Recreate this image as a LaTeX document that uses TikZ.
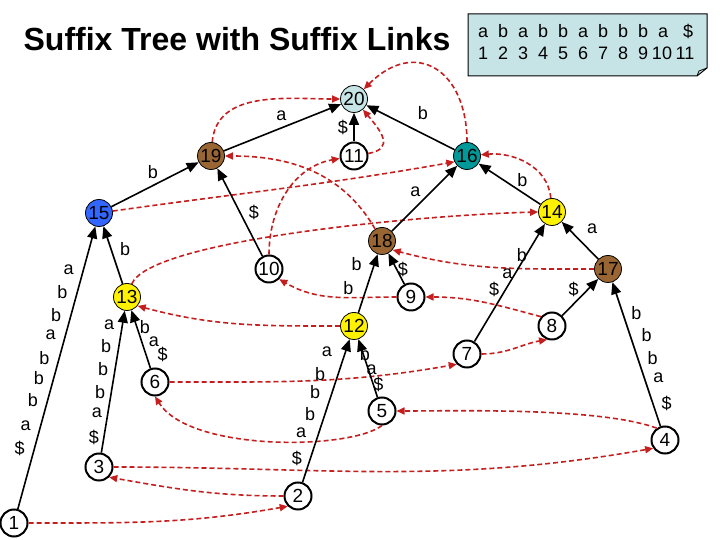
\documentclass[tikz,border=0pt]{standalone}
\usepackage{fontspec}
\setmainfont{Liberation Sans}
\usepackage{tikz}
\usetikzlibrary{arrows.meta}
\definecolor{rootblue}{HTML}{C6E3E6}
\definecolor{nodebrown}{HTML}{996633}
\definecolor{nodeteal}{HTML}{009999}
\definecolor{nodeblue}{HTML}{3366FF}
\definecolor{linkred}{HTML}{C41E1E}

\begin{document}
\begin{tikzpicture}[x=1pt, y=1pt,
  leaf/.style={circle, draw, line width=2pt, fill=white, minimum size=27pt,
    inner sep=0pt, font=\fontsize{19}{19}\selectfont},
  inner/.style={leaf, line width=0.8pt, fill=#1},
  tedge/.style={line width=1.6pt, -{Triangle[length=12pt,width=10pt]}},
  slink/.style={linkred, dash pattern=on 5pt off 3pt, line width=1.6pt,
    -{Triangle[length=8pt,width=7pt]}},
  lbl/.style={inner sep=0pt, font=\fontsize{18}{18}\selectfont}]
  \useasboundingbox (0,0) rectangle (720,540);

  % Title and the string
  \node[font=\bfseries\fontsize{32}{36}\selectfont] (title) at (237,501) {Suffix Tree with Suffix Links};
  \draw[fill=rootblue, line width=1pt] (468,464) -- (697,464) -- (707,472) -- (707,526) -- (468,526) -- cycle;
  \draw[line width=0.8pt] (697,464) -- (699,469) -- (707,472);
  \foreach \ch [count=\i] in {a,b,a,b,b,a,b,b,b,a}
    \node[lbl, anchor=base] (s\i) at ({483+20*(\i-1)},502) {\ch};
  \node[lbl, anchor=base] (s11) at (688,502) {\$};
  \foreach \i in {1,...,9}
    \node[lbl, anchor=base] (p\i) at ({483+20*(\i-1)},480) {\i};
  \node[lbl, anchor=base] (p10) at (662,480) {10};
  \node[lbl, anchor=base] (p11) at (685,480) {11};

  % Inner nodes
  \node[inner=rootblue]  (n20) at (354,441) {20};
  \node[inner=nodebrown] (n19) at (211,384) {19};
  \node[inner=nodeteal]  (n16) at (467,384) {16};
  \node[inner=nodeblue]  (n15) at (99,327)  {15};
  \node[inner=yellow]    (n14) at (552,328) {14};
  \node[inner=nodebrown] (n18) at (382,299) {18};
  \node[inner=yellow]    (n13) at (127,243) {13};
  \node[inner=nodebrown] (n17) at (608,271) {17};
  \node[inner=yellow]    (n12) at (354,214) {12};
  % Leaves
  \node[leaf] (n11) at (354,384) {11};
  \node[leaf] (n10) at (269,271) {10};
  \node[leaf] (n9)  at (411,243) {9};
  \node[leaf] (n8)  at (552,214) {8};
  \node[leaf] (n7)  at (467,186) {7};
  \node[leaf] (n6)  at (155,158) {6};
  \node[leaf] (n5)  at (382,129) {5};
  \node[leaf] (n4)  at (665,100) {4};
  \node[leaf] (n3)  at (99,73)   {3};
  \node[leaf] (n2)  at (298,44)  {2};
  \node[leaf] (n1)  at (14,17)   {1};

  % Suffix links
  \draw[slink] (n1) to[out=0, in=190] (n2.225);
  \draw[slink] (n2) to[out=180, in=-10] (n3.-45);
  \draw[slink] (n3) to[out=0, in=190] (n4.215);
  \draw[slink] (n4.125) to[out=160, in=0, looseness=0.6] (n5);
  \draw[slink] (n5.south) .. controls (350,90) and (190,88) .. (n6.south);
  \draw[slink] (n6) to[out=0, in=190] (n7.225);
  \draw[slink] (n7) to[out=0, in=190] (n8.250);
  \draw[slink] (n8.140) to[out=165, in=0] (n9);
  \draw[slink] (n9) to[out=180, in=-30] (n10.-45);
  \draw[slink] (n10) to[out=90, in=190] (n11);
  \draw[slink] (n11) to[out=10, in=-50, looseness=1.6] (n20);
  \draw[slink] (n12) to[out=180, in=-15] (n13.-40);
  \draw[slink] (n13.70) .. controls (150,300) and (420,325) .. (n14.west);
  \draw[slink] (n14) to[out=95, in=5] (n16);
  \draw[slink] (n15) to[out=8, in=190] (n16.205);
  \draw[slink] (n16) to[out=90, in=45, looseness=1.6] (n20);
  \draw[slink] (n17) to[out=180, in=-15] (n18.-40);
  \draw[slink] (n18) to[out=120, in=0] (n19);
  \draw[slink] (n19) to[out=85, in=180] (n20);

  % Tree edges, child to parent
  \draw[tedge] (n19) -- node[lbl, xshift=-1pt, yshift=12pt] {a} (n20);
  \draw[tedge] (n11) -- node[lbl, xshift=-11pt] {\$} (n20);
  \draw[tedge] (n16) -- node[lbl, pos=0.37, xshift=1pt, yshift=20pt] {b} (n20);
  \draw[tedge] (n15) -- node[lbl, xshift=-2pt, yshift=12pt] {b} (n19);
  \draw[tedge] (n10) -- node[lbl, xshift=14pt] {\$} (n19);
  \draw[tedge] (n18) -- node[lbl, xshift=-9pt, yshift=7pt] {a} (n16);
  \draw[tedge] (n14) -- node[lbl, pos=0.29, yshift=12pt] {b} (n16);
  \draw[tedge] (n13) -- node[lbl, pos=0.6, xshift=14pt] {b} (n15);
  \draw[tedge] (n1) -- (n15)
    foreach \ch/\p in {\$/0.216, a/0.294, b/0.387, b/0.465, b/0.535, a/0.617, b/0.688, b/0.767, a/0.848}
    {node[lbl, pos=\p, xshift=-15pt] {\ch}};
  \draw[tedge] (n3) -- (n13)
    foreach \ch/\p/\dx in {\$/0.11/-10, a/0.281/-11, b/0.43/-11.4, b/0.592/-12, b/0.749/-12.8, a/0.904/-13.4}
    {node[lbl, pos=\p, xshift=\dx] {\ch}};
  \draw[tedge] (n6) -- (n13)
    foreach \ch/\p/\dx in {\$/0.23/16.6, a/0.461/12.3, b/0.714/8}
    {node[lbl, pos=\p, xshift=\dx] {\ch}};
  \draw[tedge] (n12) -- (n18)
    foreach \p in {0.415, 0.84} {node[lbl, pos=\p, xshift=-18pt] {b}};
  \draw[tedge] (n2) -- (n12)
    foreach \ch/\p/\dx in {\$/0.168/-13.7, a/0.347/-17.8, b/0.474/-14.8, b/0.63/-17.1, b/0.753/-17.9, a/0.91/-18.5}
    {node[lbl, pos=\p, xshift=\dx] {\ch}};
  \draw[tedge] (n5) -- (n12)
    foreach \ch/\p/\dx in {\$/0.212/4.9, a/0.474/3.2, b/0.736/1.5}
    {node[lbl, pos=\p, xshift=\dx] {\ch}};
  \draw[tedge] (n9) -- node[lbl, pos=0.466, xshift=6pt] {\$} (n18);
  \draw[tedge] (n17) -- node[lbl, xshift=12pt, yshift=12pt] {a} (n14);
  \draw[tedge] (n7) -- (n14)
    foreach \ch/\p/\dx in {\$/0.447/-11.8, a/0.577/-7.6, b/0.739/-4.5}
    {node[lbl, pos=\p, xshift=\dx] {\ch}};
  \draw[tedge] (n8) -- node[lbl, pos=0.708, xshift=-14pt] {\$} (n17);
  \draw[tedge] (n4) -- (n17)
    foreach \ch/\p/\dx in {\$/0.16/14, a/0.334/13.9, b/0.474/14.9, b/0.636/16.7, b/0.788/13.9}
    {node[lbl, pos=\p, xshift=\dx] {\ch}};
\end{tikzpicture}
\end{document}
